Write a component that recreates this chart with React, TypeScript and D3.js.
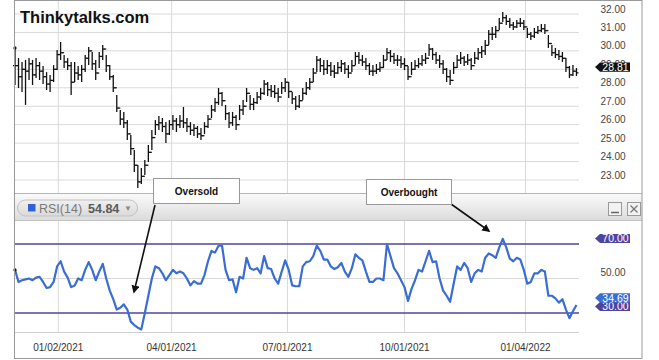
import React from "react";
import * as d3 from "d3";

const priceHigh = [
  30.16,29.61,29.40,29.51,29.61,29.51,29.61,29.40,29.18,28.85,
  28.69,29.23,30.05,30.48,29.78,29.61,29.40,29.40,29.18,29.23,
  29.78,30.21,29.94,29.51,29.94,30.32,29.78,29.23,28.69,27.61,
  26.79,26.69,26.25,25.44,24.62,23.81,23.65,24.08,24.90,25.71,
  26.25,26.47,26.36,26.14,26.25,26.52,26.36,26.52,26.96,26.36,
  26.14,26.03,25.93,25.82,26.14,26.52,27.07,27.44,27.99,27.77,
  27.07,26.69,26.69,26.52,27.07,27.34,27.99,27.61,27.44,27.77,
  27.99,28.42,28.31,28.15,28.15,27.99,28.31,28.53,28.31,27.77,
  27.55,27.61,27.99,28.31,28.53,29.07,29.72,29.61,29.51,29.51,
  29.40,29.23,29.40,29.51,29.40,29.23,29.51,29.94,29.94,29.78,
  29.61,29.34,29.23,29.29,29.40,29.78,30.16,30.05,29.89,29.78,
  29.72,29.61,29.18,29.40,29.51,29.61,29.78,29.89,30.37,30.16,
  29.94,29.78,29.51,29.07,28.96,29.40,29.78,29.94,29.72,29.83,
  29.61,29.94,30.16,30.26,30.59,31.13,31.30,31.35,31.78,32.11,
  31.95,31.78,31.57,31.67,31.78,31.67,31.24,31.02,31.24,31.35,
  31.46,31.46,30.86,30.32,30.16,30.05,29.94,29.61,29.18,29.23,
  29.07,
];

const priceLow = [
  28.15,27.99,27.77,27.07,28.42,28.15,28.53,28.42,28.20,27.88,
  27.77,28.31,28.96,29.51,29.07,28.96,27.61,28.31,28.42,28.31,
  28.85,29.23,28.96,28.42,29.07,29.51,28.85,28.42,27.77,26.69,
  25.98,25.82,25.17,24.35,23.43,22.56,22.78,23.27,23.97,24.62,
  25.44,25.71,25.60,25.00,25.44,25.71,25.60,25.82,25.82,25.60,
  25.44,25.38,25.28,25.17,25.49,25.82,26.36,26.69,27.07,27.01,
  26.25,25.82,25.93,25.71,26.25,26.52,27.23,26.79,26.79,27.12,
  27.34,27.61,27.55,27.50,27.44,27.23,27.66,27.77,27.44,27.12,
  26.79,26.90,27.34,27.61,27.88,28.31,28.85,28.85,28.69,28.75,
  28.64,28.53,28.75,28.85,28.75,28.53,28.85,29.23,29.29,29.18,
  28.96,28.69,28.64,28.75,28.85,29.07,29.51,29.40,29.29,29.18,
  29.07,28.96,28.42,28.69,28.96,29.07,29.18,29.29,29.72,29.51,
  29.29,29.07,28.75,28.31,28.15,28.75,29.07,29.29,29.18,29.23,
  28.96,29.29,29.51,29.61,29.78,30.32,30.59,30.70,31.13,31.57,
  31.40,31.24,31.13,31.24,31.30,31.13,30.70,30.59,30.70,30.92,
  31.02,30.92,30.16,29.72,29.61,29.51,29.40,28.85,28.53,28.64,
  28.64,
];

const priceClose = [
  29.2,28.6,29.0,28.9,29.3,28.7,29.2,28.9,28.6,28.2,
  28.4,29.0,29.8,29.9,29.4,29.2,28.3,28.8,28.7,29.0,
  29.6,30.0,29.3,28.8,29.7,30.1,29.2,28.6,28.0,26.9,
  26.3,26.1,25.5,24.7,23.8,22.9,23.2,23.8,24.5,25.3,
  26.0,26.1,25.9,25.5,26.0,26.2,26.0,26.2,26.1,25.9,
  25.7,25.8,25.5,25.4,25.9,26.3,26.8,27.2,27.7,27.3,
  26.6,26.1,26.4,26.0,26.8,27.0,27.7,27.1,27.2,27.5,
  27.7,28.2,27.9,27.8,27.7,27.5,28.0,28.3,27.8,27.4,
  27.0,27.3,27.7,28.0,28.3,28.8,29.5,29.2,29.0,29.2,
  28.9,28.8,29.1,29.3,29.0,28.8,29.2,29.7,29.5,29.4,
  29.2,28.9,28.9,29.0,29.1,29.5,29.9,29.7,29.5,29.5,
  29.3,29.2,28.6,29.0,29.2,29.3,29.5,29.6,30.1,29.8,
  29.5,29.3,29.0,28.6,28.4,29.1,29.5,29.6,29.4,29.5,
  29.2,29.6,29.9,30.0,30.3,30.9,30.9,31.1,31.5,31.8,
  31.6,31.4,31.3,31.5,31.5,31.3,30.9,30.8,31.0,31.1,
  31.2,31.1,30.4,29.9,29.8,29.7,29.6,29.1,28.7,28.9,
  28.81,
];

const rsiValues = [
  55,48,49,49.5,50,49,50.5,51,48,44.5,
  45,48,57,60,54,50.5,45,46,50,49,
  55,59.5,55,49,54,58.5,50,43,38,32,
  33,35,32,25,23,21.5,20.5,30,40,50,
  57,56,53,49,52,55,53,54,53,50,
  46,48.5,47,47,52,60,66,65,69,69,
  55,49,49.5,42,51,50,62,56,55,56,
  53,63,56,55.5,50,47,54,60.5,55,46,
  45.5,45.5,57,59.5,60,63,69,66,61,61,
  57,55.5,56.5,59,54,51,56,64,62,60.5,
  54,48,48,50,50,49,70,63,56,53,
  49,45,37,44,49,55,54,60,66,59.5,
  60,50,43,40,36.5,47,57,55,59,56,
  48,53,55,54,62,64.5,63.5,62,68,73,
  68,61.5,60,62,61,55,47,48,53,53,
  55,54,40,40,38.5,36,38,32,27,31,
  34.69,
];

const priceTicks = [23, 24, 25, 26, 27, 28, 29, 30, 31, 32];
const dateTicks = ["2021-01-02", "2021-04-01", "2021-07-01", "2021-10-01", "2022-01-04"];
const dateTickLabels = ["01/02/2021", "04/01/2021", "07/01/2021", "10/01/2021", "01/04/2022"];
const axisStart = "2020-11-29";
const axisEnd = "2022-02-15";
const firstSample = "2020-11-29";
const lastSample = "2022-02-13";
const rsiLevels = [70, 30];
const rsiMid = 50;
const lastPrice = 28.81;
const lastRsi = 34.69;
const rsiHeaderValue = "54.84";
const title = "Thinkytalks.com";

const W = 659;
const H = 360;
const FONT = "'Liberation Sans', Arial, sans-serif";

function Tag({ x0, x1, cy, fill, text }: { x0: number; x1: number; cy: number; fill: string; text: string }) {
  const h = 4.6;
  const d = `M${x0},${cy} L${x0 + 5},${cy - h} L${x1},${cy - h} L${x1},${cy + h} L${x0 + 5},${cy + h} Z`;
  return (
    <g>
      <path d={d} fill={fill} />
      <text x={(x0 + 5 + x1) / 2 + 0.5} y={cy + 3.6} fontSize={10.5} fill="#fff" textAnchor="middle" fontFamily={FONT}>
        {text}
      </text>
    </g>
  );
}

export default function App() {
  const plotL = 15;
  const plotR = 579;
  const parse = d3.timeParse("%Y-%m-%d");
  const xTime = d3.scaleTime().domain([parse(axisStart)!, parse(axisEnd)!]).range([plotL, plotR]);
  const N = priceClose.length;
  const xIdx = d3
    .scaleLinear()
    .domain([0, N - 1])
    .range([xTime(parse(firstSample)!), xTime(parse(lastSample)!)]);

  const yP = d3.scaleLinear().domain([23, 32]).range([180, 14]);
  const yR = d3.scaleLinear().domain([30, 70]).range([313, 244]);

  const rsiLine = d3
    .line<number>()
    .x((_, i) => xIdx(i))
    .y((v) => yR(v));

  const priceTop = 1;
  const priceBottom = 193;
  const rsiTop = 220;
  const rsiBottom = 332;
  const frameR = 642;

  const purple = "#4f449c";
  const blue = "#3a6dd3";

  return (
    <svg width={W} height={H} style={{ position: "absolute", left: 0, top: 0, background: "#fff" }} fontFamily={FONT}>
      <defs>
        <linearGradient id="hdr" x1="0" y1="0" x2="0" y2="1">
          <stop offset="0" stopColor="#fafafa" />
          <stop offset="1" stopColor="#dcdcdc" />
        </linearGradient>
        <linearGradient id="pill" x1="0" y1="0" x2="0" y2="1">
          <stop offset="0" stopColor="#f0f0f0" />
          <stop offset="1" stopColor="#dadada" />
        </linearGradient>
        <marker id="arr" viewBox="0 0 10 10" refX="8" refY="5" markerWidth="5" markerHeight="5" orient="auto">
          <path d="M0,0 L10,5 L0,10 z" fill="#111" />
        </marker>
      </defs>

      {priceTicks.map((t) => (
        <line key={"hg" + t} x1={plotL} x2={plotR} y1={yP(t)} y2={yP(t)} stroke="#d9d9d9" strokeWidth={1} />
      ))}
      {dateTicks.map((d) => (
        <line key={"vg" + d} x1={xTime(parse(d)!)} x2={xTime(parse(d)!)} y1={priceTop} y2={priceBottom} stroke="#d9d9d9" />
      ))}

      {priceTicks.map((t) => (
        <text key={"pl" + t} x={613} y={yP(t) - 1.5} fontSize={10} fill="#444" textAnchor="middle">
          {t.toFixed(2)}
        </text>
      ))}

      <g stroke="#111" strokeWidth={1.3}>
        {priceClose.map((c, i) => {
          const x = xIdx(i);
          const o = i > 0 ? priceClose[i - 1] : c;
          return (
            <g key={"b" + i}>
              <line x1={x} x2={x} y1={yP(priceHigh[i])} y2={yP(priceLow[i])} />
              <line x1={x - 2} x2={x} y1={yP(o)} y2={yP(o)} />
              <line x1={x} x2={x + 2} y1={yP(c)} y2={yP(c)} />
            </g>
          );
        })}
      </g>
      <circle cx={xIdx(0)} cy={yP(priceHigh[0])} r={1.6} fill="#111" />

      <Tag x0={595} x1={630} cy={yP(lastPrice) - 5.8} fill="#111" text={lastPrice.toFixed(2)} />

      <text x={20} y={23} fontSize={16.5} fontWeight={700} fill="#111">
        {title}
      </text>

      <line x1={plotL} x2={frameR} y1={priceBottom + 0.5} y2={priceBottom + 0.5} stroke="#b5b5b5" />
      <rect x={plotL} y={priceBottom + 1} width={frameR - plotL} height={rsiTop - priceBottom - 1} fill="url(#hdr)" />
      <line x1={plotL} x2={frameR} y1={rsiTop + 0.5} y2={rsiTop + 0.5} stroke="#c4c4c4" />
      <rect x={17.5} y={200} width={120} height={16} rx={8} fill="url(#pill)" stroke="#c2c2c2" />
      <rect x={28} y={204} width={7.5} height={7.5} fill="#2f62d0" />
      <text x={39} y={212.5} fontSize={12.5} fill="#7a7a7a">
        RSI(14)
      </text>
      <text x={88} y={212.5} fontSize={12.5} fontWeight={700} fill="#5a5a5a">
        {rsiHeaderValue}
      </text>
      <text x={128} y={211} fontSize={8} fill="#8a8a8a" textAnchor="middle">
        ▼
      </text>
      <rect x={608.5} y={202.5} width={13} height={13} fill="#f2f2f2" stroke="#9a9a9a" />
      <line x1={611} x2={619} y1={212.5} y2={212.5} stroke="#666" strokeWidth={1.5} />
      <rect x={627.5} y={202.5} width={13} height={13} fill="#f2f2f2" stroke="#9a9a9a" />
      <line x1={630.5} x2={637.5} y1={205.5} y2={212.5} stroke="#777" strokeWidth={1.2} />
      <line x1={637.5} x2={630.5} y1={205.5} y2={212.5} stroke="#777" strokeWidth={1.2} />

      {dateTicks.map((d) => (
        <line key={"rvg" + d} x1={xTime(parse(d)!)} x2={xTime(parse(d)!)} y1={rsiTop + 1} y2={rsiBottom} stroke="#d9d9d9" />
      ))}
      <line x1={plotL} x2={plotR} y1={yR(rsiMid)} y2={yR(rsiMid)} stroke="#d9d9d9" />
      <line x1={plotL} x2={plotR} y1={rsiBottom + 0.5} y2={rsiBottom + 0.5} stroke="#d0d0d0" />
      {rsiLevels.map((l) => (
        <line key={"lv" + l} x1={plotL} x2={plotR} y1={yR(l)} y2={yR(l)} stroke={purple} strokeWidth={1.3} />
      ))}

      <path d={rsiLine(rsiValues) || ""} fill="none" stroke={blue} strokeWidth={2.2} strokeLinejoin="round" />
      <circle cx={xIdx(0)} cy={yR(rsiValues[0])} r={1.6} fill="#111" />

      <Tag x0={595} x1={630} cy={yR(70) - 5.5} fill={purple} text="70.00" />
      <text x={613} y={yR(rsiMid) - 2.5} fontSize={10} fill="#444" textAnchor="middle">
        {rsiMid.toFixed(2)}
      </text>
      <Tag x0={595} x1={630} cy={yR(30) - 6.5} fill={purple} text="30.00" />
      <Tag x0={595} x1={630} cy={yR(lastRsi) - 7} fill={blue} text={lastRsi.toFixed(2)} />

      {dateTicks.map((d, i) => (
        <text key={"dl" + d} x={xTime(parse(d)!)} y={351} fontSize={10} fill="#333" textAnchor="middle">
          {dateTickLabels[i]}
        </text>
      ))}

      <line x1={155} y1={205} x2={134} y2={292} stroke="#111" strokeWidth={1.6} markerEnd="url(#arr)" />
      <rect x={153.5} y={178.5} width={86} height={25} fill="#fff" stroke="#9a9a9a" />
      <text x={196.5} y={194.5} fontSize={10} fontWeight={700} fill="#111" textAnchor="middle">
        Oversold
      </text>
      <line x1={451} y1={204} x2={489} y2={231} stroke="#111" strokeWidth={1.6} markerEnd="url(#arr)" />
      <rect x={366.5} y={179.5} width={85} height={25} fill="#fff" stroke="#9a9a9a" />
      <text x={409} y={195.5} fontSize={10} fontWeight={700} fill="#111" textAnchor="middle">
        Overbought
      </text>

      <rect x={14.5} y={0.5} width={frameR - 14.5} height={358} fill="none" stroke="#9a9a9a" />
    </svg>
  );
}
